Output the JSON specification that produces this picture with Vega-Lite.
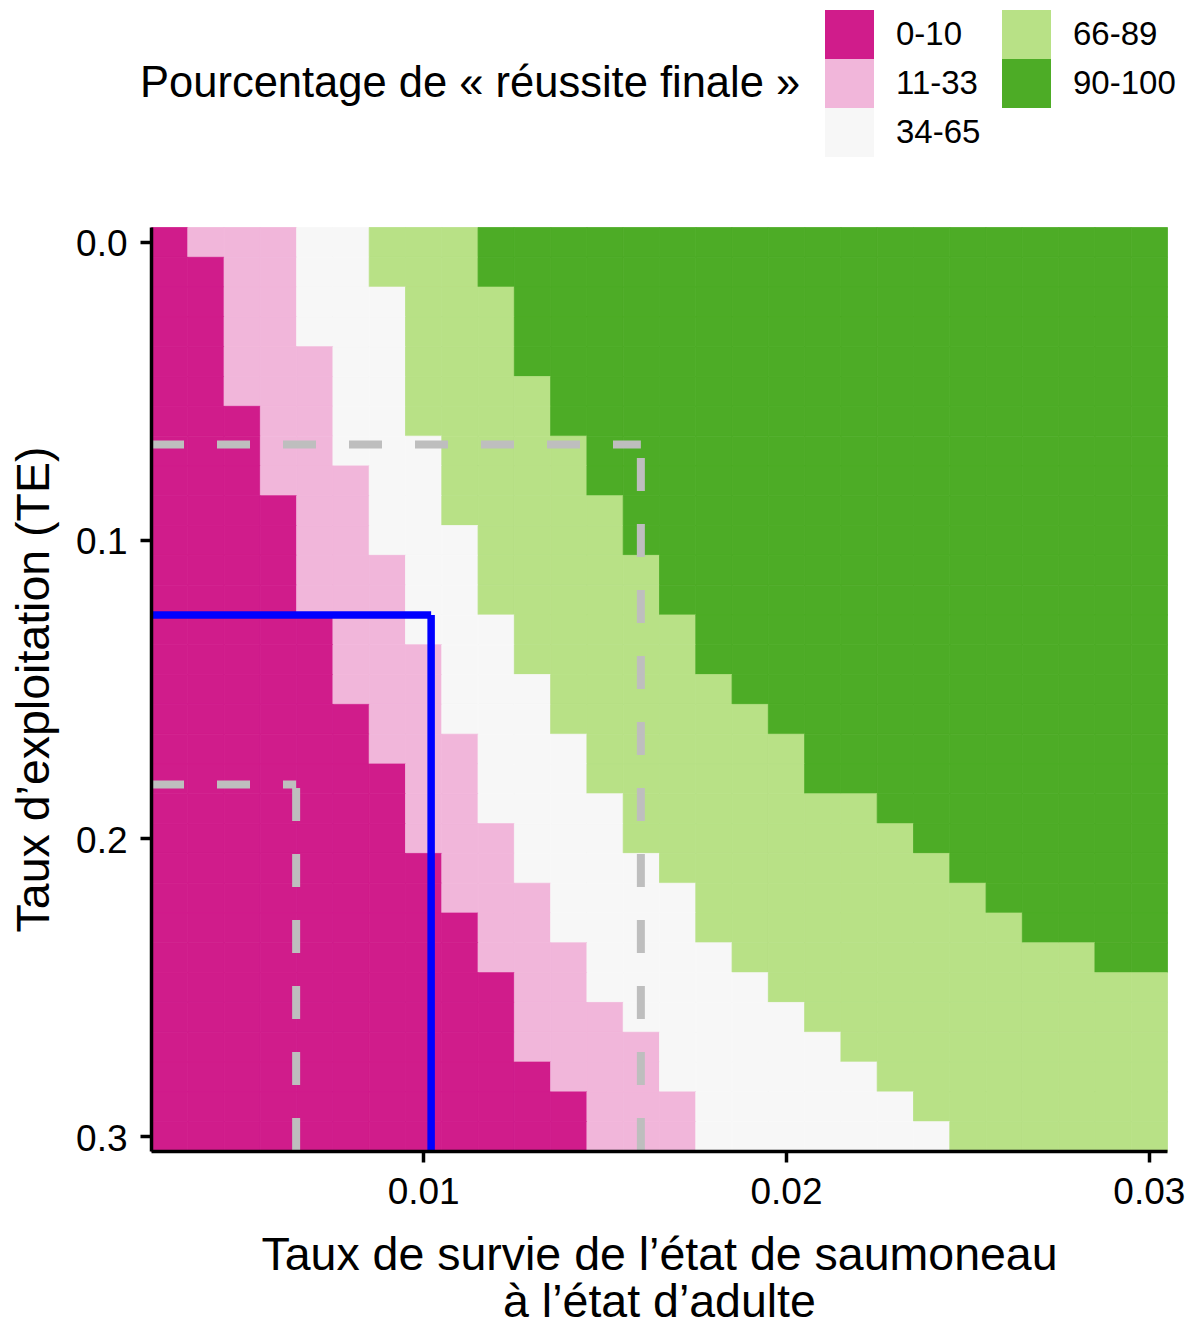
{
"$schema": "https://vega.github.io/schema/vega-lite/v6.json",
"width": 1016,
"height": 924,
"autosize": {"type": "none"},
"padding": {"left": 151, "top": 227, "right": 29, "bottom": 176},
"background": "white",
"config": {
  "view": {"stroke": null},
  "font": "Liberation Sans",
  "axis": {"grid": false, "labelColor": "black", "titleColor": "black", "domainColor": "black", "tickColor": "black", "domainWidth": 3.5, "tickWidth": 3.5, "tickSize": 11, "labelFontSize": 37, "titleFontSize": 46.5, "titleFontWeight": "normal"}
},
"datasets": {
"cellules": [
{"surv":0.003,"te":0,"pct":"0-10"},{"surv":0.004,"te":0,"pct":"11-33"},{"surv":0.005,"te":0,"pct":"11-33"},{"surv":0.006,"te":0,"pct":"11-33"},{"surv":0.007,"te":0,"pct":"34-65"},{"surv":0.008,"te":0,"pct":"34-65"},{"surv":0.009,"te":0,"pct":"66-89"},{"surv":0.01,"te":0,"pct":"66-89"},{"surv":0.011,"te":0,"pct":"66-89"},{"surv":0.012,"te":0,"pct":"90-100"},{"surv":0.013,"te":0,"pct":"90-100"},{"surv":0.014,"te":0,"pct":"90-100"},{"surv":0.015,"te":0,"pct":"90-100"},{"surv":0.016,"te":0,"pct":"90-100"},{"surv":0.017,"te":0,"pct":"90-100"},{"surv":0.018,"te":0,"pct":"90-100"},{"surv":0.019,"te":0,"pct":"90-100"},{"surv":0.02,"te":0,"pct":"90-100"},{"surv":0.021,"te":0,"pct":"90-100"},{"surv":0.022,"te":0,"pct":"90-100"},{"surv":0.023,"te":0,"pct":"90-100"},{"surv":0.024,"te":0,"pct":"90-100"},{"surv":0.025,"te":0,"pct":"90-100"},{"surv":0.026,"te":0,"pct":"90-100"},{"surv":0.027,"te":0,"pct":"90-100"},{"surv":0.028,"te":0,"pct":"90-100"},{"surv":0.029,"te":0,"pct":"90-100"},{"surv":0.03,"te":0,"pct":"90-100"},
{"surv":0.003,"te":0.01,"pct":"0-10"},{"surv":0.004,"te":0.01,"pct":"0-10"},{"surv":0.005,"te":0.01,"pct":"11-33"},{"surv":0.006,"te":0.01,"pct":"11-33"},{"surv":0.007,"te":0.01,"pct":"34-65"},{"surv":0.008,"te":0.01,"pct":"34-65"},{"surv":0.009,"te":0.01,"pct":"66-89"},{"surv":0.01,"te":0.01,"pct":"66-89"},{"surv":0.011,"te":0.01,"pct":"66-89"},{"surv":0.012,"te":0.01,"pct":"90-100"},{"surv":0.013,"te":0.01,"pct":"90-100"},{"surv":0.014,"te":0.01,"pct":"90-100"},{"surv":0.015,"te":0.01,"pct":"90-100"},{"surv":0.016,"te":0.01,"pct":"90-100"},{"surv":0.017,"te":0.01,"pct":"90-100"},{"surv":0.018,"te":0.01,"pct":"90-100"},{"surv":0.019,"te":0.01,"pct":"90-100"},{"surv":0.02,"te":0.01,"pct":"90-100"},{"surv":0.021,"te":0.01,"pct":"90-100"},{"surv":0.022,"te":0.01,"pct":"90-100"},{"surv":0.023,"te":0.01,"pct":"90-100"},{"surv":0.024,"te":0.01,"pct":"90-100"},{"surv":0.025,"te":0.01,"pct":"90-100"},{"surv":0.026,"te":0.01,"pct":"90-100"},{"surv":0.027,"te":0.01,"pct":"90-100"},{"surv":0.028,"te":0.01,"pct":"90-100"},{"surv":0.029,"te":0.01,"pct":"90-100"},{"surv":0.03,"te":0.01,"pct":"90-100"},
{"surv":0.003,"te":0.02,"pct":"0-10"},{"surv":0.004,"te":0.02,"pct":"0-10"},{"surv":0.005,"te":0.02,"pct":"11-33"},{"surv":0.006,"te":0.02,"pct":"11-33"},{"surv":0.007,"te":0.02,"pct":"34-65"},{"surv":0.008,"te":0.02,"pct":"34-65"},{"surv":0.009,"te":0.02,"pct":"34-65"},{"surv":0.01,"te":0.02,"pct":"66-89"},{"surv":0.011,"te":0.02,"pct":"66-89"},{"surv":0.012,"te":0.02,"pct":"66-89"},{"surv":0.013,"te":0.02,"pct":"90-100"},{"surv":0.014,"te":0.02,"pct":"90-100"},{"surv":0.015,"te":0.02,"pct":"90-100"},{"surv":0.016,"te":0.02,"pct":"90-100"},{"surv":0.017,"te":0.02,"pct":"90-100"},{"surv":0.018,"te":0.02,"pct":"90-100"},{"surv":0.019,"te":0.02,"pct":"90-100"},{"surv":0.02,"te":0.02,"pct":"90-100"},{"surv":0.021,"te":0.02,"pct":"90-100"},{"surv":0.022,"te":0.02,"pct":"90-100"},{"surv":0.023,"te":0.02,"pct":"90-100"},{"surv":0.024,"te":0.02,"pct":"90-100"},{"surv":0.025,"te":0.02,"pct":"90-100"},{"surv":0.026,"te":0.02,"pct":"90-100"},{"surv":0.027,"te":0.02,"pct":"90-100"},{"surv":0.028,"te":0.02,"pct":"90-100"},{"surv":0.029,"te":0.02,"pct":"90-100"},{"surv":0.03,"te":0.02,"pct":"90-100"},
{"surv":0.003,"te":0.03,"pct":"0-10"},{"surv":0.004,"te":0.03,"pct":"0-10"},{"surv":0.005,"te":0.03,"pct":"11-33"},{"surv":0.006,"te":0.03,"pct":"11-33"},{"surv":0.007,"te":0.03,"pct":"34-65"},{"surv":0.008,"te":0.03,"pct":"34-65"},{"surv":0.009,"te":0.03,"pct":"34-65"},{"surv":0.01,"te":0.03,"pct":"66-89"},{"surv":0.011,"te":0.03,"pct":"66-89"},{"surv":0.012,"te":0.03,"pct":"66-89"},{"surv":0.013,"te":0.03,"pct":"90-100"},{"surv":0.014,"te":0.03,"pct":"90-100"},{"surv":0.015,"te":0.03,"pct":"90-100"},{"surv":0.016,"te":0.03,"pct":"90-100"},{"surv":0.017,"te":0.03,"pct":"90-100"},{"surv":0.018,"te":0.03,"pct":"90-100"},{"surv":0.019,"te":0.03,"pct":"90-100"},{"surv":0.02,"te":0.03,"pct":"90-100"},{"surv":0.021,"te":0.03,"pct":"90-100"},{"surv":0.022,"te":0.03,"pct":"90-100"},{"surv":0.023,"te":0.03,"pct":"90-100"},{"surv":0.024,"te":0.03,"pct":"90-100"},{"surv":0.025,"te":0.03,"pct":"90-100"},{"surv":0.026,"te":0.03,"pct":"90-100"},{"surv":0.027,"te":0.03,"pct":"90-100"},{"surv":0.028,"te":0.03,"pct":"90-100"},{"surv":0.029,"te":0.03,"pct":"90-100"},{"surv":0.03,"te":0.03,"pct":"90-100"},
{"surv":0.003,"te":0.04,"pct":"0-10"},{"surv":0.004,"te":0.04,"pct":"0-10"},{"surv":0.005,"te":0.04,"pct":"11-33"},{"surv":0.006,"te":0.04,"pct":"11-33"},{"surv":0.007,"te":0.04,"pct":"11-33"},{"surv":0.008,"te":0.04,"pct":"34-65"},{"surv":0.009,"te":0.04,"pct":"34-65"},{"surv":0.01,"te":0.04,"pct":"66-89"},{"surv":0.011,"te":0.04,"pct":"66-89"},{"surv":0.012,"te":0.04,"pct":"66-89"},{"surv":0.013,"te":0.04,"pct":"90-100"},{"surv":0.014,"te":0.04,"pct":"90-100"},{"surv":0.015,"te":0.04,"pct":"90-100"},{"surv":0.016,"te":0.04,"pct":"90-100"},{"surv":0.017,"te":0.04,"pct":"90-100"},{"surv":0.018,"te":0.04,"pct":"90-100"},{"surv":0.019,"te":0.04,"pct":"90-100"},{"surv":0.02,"te":0.04,"pct":"90-100"},{"surv":0.021,"te":0.04,"pct":"90-100"},{"surv":0.022,"te":0.04,"pct":"90-100"},{"surv":0.023,"te":0.04,"pct":"90-100"},{"surv":0.024,"te":0.04,"pct":"90-100"},{"surv":0.025,"te":0.04,"pct":"90-100"},{"surv":0.026,"te":0.04,"pct":"90-100"},{"surv":0.027,"te":0.04,"pct":"90-100"},{"surv":0.028,"te":0.04,"pct":"90-100"},{"surv":0.029,"te":0.04,"pct":"90-100"},{"surv":0.03,"te":0.04,"pct":"90-100"},
{"surv":0.003,"te":0.05,"pct":"0-10"},{"surv":0.004,"te":0.05,"pct":"0-10"},{"surv":0.005,"te":0.05,"pct":"11-33"},{"surv":0.006,"te":0.05,"pct":"11-33"},{"surv":0.007,"te":0.05,"pct":"11-33"},{"surv":0.008,"te":0.05,"pct":"34-65"},{"surv":0.009,"te":0.05,"pct":"34-65"},{"surv":0.01,"te":0.05,"pct":"66-89"},{"surv":0.011,"te":0.05,"pct":"66-89"},{"surv":0.012,"te":0.05,"pct":"66-89"},{"surv":0.013,"te":0.05,"pct":"66-89"},{"surv":0.014,"te":0.05,"pct":"90-100"},{"surv":0.015,"te":0.05,"pct":"90-100"},{"surv":0.016,"te":0.05,"pct":"90-100"},{"surv":0.017,"te":0.05,"pct":"90-100"},{"surv":0.018,"te":0.05,"pct":"90-100"},{"surv":0.019,"te":0.05,"pct":"90-100"},{"surv":0.02,"te":0.05,"pct":"90-100"},{"surv":0.021,"te":0.05,"pct":"90-100"},{"surv":0.022,"te":0.05,"pct":"90-100"},{"surv":0.023,"te":0.05,"pct":"90-100"},{"surv":0.024,"te":0.05,"pct":"90-100"},{"surv":0.025,"te":0.05,"pct":"90-100"},{"surv":0.026,"te":0.05,"pct":"90-100"},{"surv":0.027,"te":0.05,"pct":"90-100"},{"surv":0.028,"te":0.05,"pct":"90-100"},{"surv":0.029,"te":0.05,"pct":"90-100"},{"surv":0.03,"te":0.05,"pct":"90-100"},
{"surv":0.003,"te":0.06,"pct":"0-10"},{"surv":0.004,"te":0.06,"pct":"0-10"},{"surv":0.005,"te":0.06,"pct":"0-10"},{"surv":0.006,"te":0.06,"pct":"11-33"},{"surv":0.007,"te":0.06,"pct":"11-33"},{"surv":0.008,"te":0.06,"pct":"34-65"},{"surv":0.009,"te":0.06,"pct":"34-65"},{"surv":0.01,"te":0.06,"pct":"66-89"},{"surv":0.011,"te":0.06,"pct":"66-89"},{"surv":0.012,"te":0.06,"pct":"66-89"},{"surv":0.013,"te":0.06,"pct":"66-89"},{"surv":0.014,"te":0.06,"pct":"90-100"},{"surv":0.015,"te":0.06,"pct":"90-100"},{"surv":0.016,"te":0.06,"pct":"90-100"},{"surv":0.017,"te":0.06,"pct":"90-100"},{"surv":0.018,"te":0.06,"pct":"90-100"},{"surv":0.019,"te":0.06,"pct":"90-100"},{"surv":0.02,"te":0.06,"pct":"90-100"},{"surv":0.021,"te":0.06,"pct":"90-100"},{"surv":0.022,"te":0.06,"pct":"90-100"},{"surv":0.023,"te":0.06,"pct":"90-100"},{"surv":0.024,"te":0.06,"pct":"90-100"},{"surv":0.025,"te":0.06,"pct":"90-100"},{"surv":0.026,"te":0.06,"pct":"90-100"},{"surv":0.027,"te":0.06,"pct":"90-100"},{"surv":0.028,"te":0.06,"pct":"90-100"},{"surv":0.029,"te":0.06,"pct":"90-100"},{"surv":0.03,"te":0.06,"pct":"90-100"},
{"surv":0.003,"te":0.07,"pct":"0-10"},{"surv":0.004,"te":0.07,"pct":"0-10"},{"surv":0.005,"te":0.07,"pct":"0-10"},{"surv":0.006,"te":0.07,"pct":"11-33"},{"surv":0.007,"te":0.07,"pct":"11-33"},{"surv":0.008,"te":0.07,"pct":"34-65"},{"surv":0.009,"te":0.07,"pct":"34-65"},{"surv":0.01,"te":0.07,"pct":"34-65"},{"surv":0.011,"te":0.07,"pct":"66-89"},{"surv":0.012,"te":0.07,"pct":"66-89"},{"surv":0.013,"te":0.07,"pct":"66-89"},{"surv":0.014,"te":0.07,"pct":"66-89"},{"surv":0.015,"te":0.07,"pct":"90-100"},{"surv":0.016,"te":0.07,"pct":"90-100"},{"surv":0.017,"te":0.07,"pct":"90-100"},{"surv":0.018,"te":0.07,"pct":"90-100"},{"surv":0.019,"te":0.07,"pct":"90-100"},{"surv":0.02,"te":0.07,"pct":"90-100"},{"surv":0.021,"te":0.07,"pct":"90-100"},{"surv":0.022,"te":0.07,"pct":"90-100"},{"surv":0.023,"te":0.07,"pct":"90-100"},{"surv":0.024,"te":0.07,"pct":"90-100"},{"surv":0.025,"te":0.07,"pct":"90-100"},{"surv":0.026,"te":0.07,"pct":"90-100"},{"surv":0.027,"te":0.07,"pct":"90-100"},{"surv":0.028,"te":0.07,"pct":"90-100"},{"surv":0.029,"te":0.07,"pct":"90-100"},{"surv":0.03,"te":0.07,"pct":"90-100"},
{"surv":0.003,"te":0.08,"pct":"0-10"},{"surv":0.004,"te":0.08,"pct":"0-10"},{"surv":0.005,"te":0.08,"pct":"0-10"},{"surv":0.006,"te":0.08,"pct":"11-33"},{"surv":0.007,"te":0.08,"pct":"11-33"},{"surv":0.008,"te":0.08,"pct":"11-33"},{"surv":0.009,"te":0.08,"pct":"34-65"},{"surv":0.01,"te":0.08,"pct":"34-65"},{"surv":0.011,"te":0.08,"pct":"66-89"},{"surv":0.012,"te":0.08,"pct":"66-89"},{"surv":0.013,"te":0.08,"pct":"66-89"},{"surv":0.014,"te":0.08,"pct":"66-89"},{"surv":0.015,"te":0.08,"pct":"90-100"},{"surv":0.016,"te":0.08,"pct":"90-100"},{"surv":0.017,"te":0.08,"pct":"90-100"},{"surv":0.018,"te":0.08,"pct":"90-100"},{"surv":0.019,"te":0.08,"pct":"90-100"},{"surv":0.02,"te":0.08,"pct":"90-100"},{"surv":0.021,"te":0.08,"pct":"90-100"},{"surv":0.022,"te":0.08,"pct":"90-100"},{"surv":0.023,"te":0.08,"pct":"90-100"},{"surv":0.024,"te":0.08,"pct":"90-100"},{"surv":0.025,"te":0.08,"pct":"90-100"},{"surv":0.026,"te":0.08,"pct":"90-100"},{"surv":0.027,"te":0.08,"pct":"90-100"},{"surv":0.028,"te":0.08,"pct":"90-100"},{"surv":0.029,"te":0.08,"pct":"90-100"},{"surv":0.03,"te":0.08,"pct":"90-100"},
{"surv":0.003,"te":0.09,"pct":"0-10"},{"surv":0.004,"te":0.09,"pct":"0-10"},{"surv":0.005,"te":0.09,"pct":"0-10"},{"surv":0.006,"te":0.09,"pct":"0-10"},{"surv":0.007,"te":0.09,"pct":"11-33"},{"surv":0.008,"te":0.09,"pct":"11-33"},{"surv":0.009,"te":0.09,"pct":"34-65"},{"surv":0.01,"te":0.09,"pct":"34-65"},{"surv":0.011,"te":0.09,"pct":"66-89"},{"surv":0.012,"te":0.09,"pct":"66-89"},{"surv":0.013,"te":0.09,"pct":"66-89"},{"surv":0.014,"te":0.09,"pct":"66-89"},{"surv":0.015,"te":0.09,"pct":"66-89"},{"surv":0.016,"te":0.09,"pct":"90-100"},{"surv":0.017,"te":0.09,"pct":"90-100"},{"surv":0.018,"te":0.09,"pct":"90-100"},{"surv":0.019,"te":0.09,"pct":"90-100"},{"surv":0.02,"te":0.09,"pct":"90-100"},{"surv":0.021,"te":0.09,"pct":"90-100"},{"surv":0.022,"te":0.09,"pct":"90-100"},{"surv":0.023,"te":0.09,"pct":"90-100"},{"surv":0.024,"te":0.09,"pct":"90-100"},{"surv":0.025,"te":0.09,"pct":"90-100"},{"surv":0.026,"te":0.09,"pct":"90-100"},{"surv":0.027,"te":0.09,"pct":"90-100"},{"surv":0.028,"te":0.09,"pct":"90-100"},{"surv":0.029,"te":0.09,"pct":"90-100"},{"surv":0.03,"te":0.09,"pct":"90-100"},
{"surv":0.003,"te":0.1,"pct":"0-10"},{"surv":0.004,"te":0.1,"pct":"0-10"},{"surv":0.005,"te":0.1,"pct":"0-10"},{"surv":0.006,"te":0.1,"pct":"0-10"},{"surv":0.007,"te":0.1,"pct":"11-33"},{"surv":0.008,"te":0.1,"pct":"11-33"},{"surv":0.009,"te":0.1,"pct":"34-65"},{"surv":0.01,"te":0.1,"pct":"34-65"},{"surv":0.011,"te":0.1,"pct":"34-65"},{"surv":0.012,"te":0.1,"pct":"66-89"},{"surv":0.013,"te":0.1,"pct":"66-89"},{"surv":0.014,"te":0.1,"pct":"66-89"},{"surv":0.015,"te":0.1,"pct":"66-89"},{"surv":0.016,"te":0.1,"pct":"90-100"},{"surv":0.017,"te":0.1,"pct":"90-100"},{"surv":0.018,"te":0.1,"pct":"90-100"},{"surv":0.019,"te":0.1,"pct":"90-100"},{"surv":0.02,"te":0.1,"pct":"90-100"},{"surv":0.021,"te":0.1,"pct":"90-100"},{"surv":0.022,"te":0.1,"pct":"90-100"},{"surv":0.023,"te":0.1,"pct":"90-100"},{"surv":0.024,"te":0.1,"pct":"90-100"},{"surv":0.025,"te":0.1,"pct":"90-100"},{"surv":0.026,"te":0.1,"pct":"90-100"},{"surv":0.027,"te":0.1,"pct":"90-100"},{"surv":0.028,"te":0.1,"pct":"90-100"},{"surv":0.029,"te":0.1,"pct":"90-100"},{"surv":0.03,"te":0.1,"pct":"90-100"},
{"surv":0.003,"te":0.11,"pct":"0-10"},{"surv":0.004,"te":0.11,"pct":"0-10"},{"surv":0.005,"te":0.11,"pct":"0-10"},{"surv":0.006,"te":0.11,"pct":"0-10"},{"surv":0.007,"te":0.11,"pct":"11-33"},{"surv":0.008,"te":0.11,"pct":"11-33"},{"surv":0.009,"te":0.11,"pct":"11-33"},{"surv":0.01,"te":0.11,"pct":"34-65"},{"surv":0.011,"te":0.11,"pct":"34-65"},{"surv":0.012,"te":0.11,"pct":"66-89"},{"surv":0.013,"te":0.11,"pct":"66-89"},{"surv":0.014,"te":0.11,"pct":"66-89"},{"surv":0.015,"te":0.11,"pct":"66-89"},{"surv":0.016,"te":0.11,"pct":"66-89"},{"surv":0.017,"te":0.11,"pct":"90-100"},{"surv":0.018,"te":0.11,"pct":"90-100"},{"surv":0.019,"te":0.11,"pct":"90-100"},{"surv":0.02,"te":0.11,"pct":"90-100"},{"surv":0.021,"te":0.11,"pct":"90-100"},{"surv":0.022,"te":0.11,"pct":"90-100"},{"surv":0.023,"te":0.11,"pct":"90-100"},{"surv":0.024,"te":0.11,"pct":"90-100"},{"surv":0.025,"te":0.11,"pct":"90-100"},{"surv":0.026,"te":0.11,"pct":"90-100"},{"surv":0.027,"te":0.11,"pct":"90-100"},{"surv":0.028,"te":0.11,"pct":"90-100"},{"surv":0.029,"te":0.11,"pct":"90-100"},{"surv":0.03,"te":0.11,"pct":"90-100"},
{"surv":0.003,"te":0.12,"pct":"0-10"},{"surv":0.004,"te":0.12,"pct":"0-10"},{"surv":0.005,"te":0.12,"pct":"0-10"},{"surv":0.006,"te":0.12,"pct":"0-10"},{"surv":0.007,"te":0.12,"pct":"11-33"},{"surv":0.008,"te":0.12,"pct":"11-33"},{"surv":0.009,"te":0.12,"pct":"11-33"},{"surv":0.01,"te":0.12,"pct":"34-65"},{"surv":0.011,"te":0.12,"pct":"34-65"},{"surv":0.012,"te":0.12,"pct":"66-89"},{"surv":0.013,"te":0.12,"pct":"66-89"},{"surv":0.014,"te":0.12,"pct":"66-89"},{"surv":0.015,"te":0.12,"pct":"66-89"},{"surv":0.016,"te":0.12,"pct":"66-89"},{"surv":0.017,"te":0.12,"pct":"90-100"},{"surv":0.018,"te":0.12,"pct":"90-100"},{"surv":0.019,"te":0.12,"pct":"90-100"},{"surv":0.02,"te":0.12,"pct":"90-100"},{"surv":0.021,"te":0.12,"pct":"90-100"},{"surv":0.022,"te":0.12,"pct":"90-100"},{"surv":0.023,"te":0.12,"pct":"90-100"},{"surv":0.024,"te":0.12,"pct":"90-100"},{"surv":0.025,"te":0.12,"pct":"90-100"},{"surv":0.026,"te":0.12,"pct":"90-100"},{"surv":0.027,"te":0.12,"pct":"90-100"},{"surv":0.028,"te":0.12,"pct":"90-100"},{"surv":0.029,"te":0.12,"pct":"90-100"},{"surv":0.03,"te":0.12,"pct":"90-100"},
{"surv":0.003,"te":0.13,"pct":"0-10"},{"surv":0.004,"te":0.13,"pct":"0-10"},{"surv":0.005,"te":0.13,"pct":"0-10"},{"surv":0.006,"te":0.13,"pct":"0-10"},{"surv":0.007,"te":0.13,"pct":"0-10"},{"surv":0.008,"te":0.13,"pct":"11-33"},{"surv":0.009,"te":0.13,"pct":"11-33"},{"surv":0.01,"te":0.13,"pct":"34-65"},{"surv":0.011,"te":0.13,"pct":"34-65"},{"surv":0.012,"te":0.13,"pct":"34-65"},{"surv":0.013,"te":0.13,"pct":"66-89"},{"surv":0.014,"te":0.13,"pct":"66-89"},{"surv":0.015,"te":0.13,"pct":"66-89"},{"surv":0.016,"te":0.13,"pct":"66-89"},{"surv":0.017,"te":0.13,"pct":"66-89"},{"surv":0.018,"te":0.13,"pct":"90-100"},{"surv":0.019,"te":0.13,"pct":"90-100"},{"surv":0.02,"te":0.13,"pct":"90-100"},{"surv":0.021,"te":0.13,"pct":"90-100"},{"surv":0.022,"te":0.13,"pct":"90-100"},{"surv":0.023,"te":0.13,"pct":"90-100"},{"surv":0.024,"te":0.13,"pct":"90-100"},{"surv":0.025,"te":0.13,"pct":"90-100"},{"surv":0.026,"te":0.13,"pct":"90-100"},{"surv":0.027,"te":0.13,"pct":"90-100"},{"surv":0.028,"te":0.13,"pct":"90-100"},{"surv":0.029,"te":0.13,"pct":"90-100"},{"surv":0.03,"te":0.13,"pct":"90-100"},
{"surv":0.003,"te":0.14,"pct":"0-10"},{"surv":0.004,"te":0.14,"pct":"0-10"},{"surv":0.005,"te":0.14,"pct":"0-10"},{"surv":0.006,"te":0.14,"pct":"0-10"},{"surv":0.007,"te":0.14,"pct":"0-10"},{"surv":0.008,"te":0.14,"pct":"11-33"},{"surv":0.009,"te":0.14,"pct":"11-33"},{"surv":0.01,"te":0.14,"pct":"11-33"},{"surv":0.011,"te":0.14,"pct":"34-65"},{"surv":0.012,"te":0.14,"pct":"34-65"},{"surv":0.013,"te":0.14,"pct":"66-89"},{"surv":0.014,"te":0.14,"pct":"66-89"},{"surv":0.015,"te":0.14,"pct":"66-89"},{"surv":0.016,"te":0.14,"pct":"66-89"},{"surv":0.017,"te":0.14,"pct":"66-89"},{"surv":0.018,"te":0.14,"pct":"90-100"},{"surv":0.019,"te":0.14,"pct":"90-100"},{"surv":0.02,"te":0.14,"pct":"90-100"},{"surv":0.021,"te":0.14,"pct":"90-100"},{"surv":0.022,"te":0.14,"pct":"90-100"},{"surv":0.023,"te":0.14,"pct":"90-100"},{"surv":0.024,"te":0.14,"pct":"90-100"},{"surv":0.025,"te":0.14,"pct":"90-100"},{"surv":0.026,"te":0.14,"pct":"90-100"},{"surv":0.027,"te":0.14,"pct":"90-100"},{"surv":0.028,"te":0.14,"pct":"90-100"},{"surv":0.029,"te":0.14,"pct":"90-100"},{"surv":0.03,"te":0.14,"pct":"90-100"},
{"surv":0.003,"te":0.15,"pct":"0-10"},{"surv":0.004,"te":0.15,"pct":"0-10"},{"surv":0.005,"te":0.15,"pct":"0-10"},{"surv":0.006,"te":0.15,"pct":"0-10"},{"surv":0.007,"te":0.15,"pct":"0-10"},{"surv":0.008,"te":0.15,"pct":"11-33"},{"surv":0.009,"te":0.15,"pct":"11-33"},{"surv":0.01,"te":0.15,"pct":"11-33"},{"surv":0.011,"te":0.15,"pct":"34-65"},{"surv":0.012,"te":0.15,"pct":"34-65"},{"surv":0.013,"te":0.15,"pct":"34-65"},{"surv":0.014,"te":0.15,"pct":"66-89"},{"surv":0.015,"te":0.15,"pct":"66-89"},{"surv":0.016,"te":0.15,"pct":"66-89"},{"surv":0.017,"te":0.15,"pct":"66-89"},{"surv":0.018,"te":0.15,"pct":"66-89"},{"surv":0.019,"te":0.15,"pct":"90-100"},{"surv":0.02,"te":0.15,"pct":"90-100"},{"surv":0.021,"te":0.15,"pct":"90-100"},{"surv":0.022,"te":0.15,"pct":"90-100"},{"surv":0.023,"te":0.15,"pct":"90-100"},{"surv":0.024,"te":0.15,"pct":"90-100"},{"surv":0.025,"te":0.15,"pct":"90-100"},{"surv":0.026,"te":0.15,"pct":"90-100"},{"surv":0.027,"te":0.15,"pct":"90-100"},{"surv":0.028,"te":0.15,"pct":"90-100"},{"surv":0.029,"te":0.15,"pct":"90-100"},{"surv":0.03,"te":0.15,"pct":"90-100"},
{"surv":0.003,"te":0.16,"pct":"0-10"},{"surv":0.004,"te":0.16,"pct":"0-10"},{"surv":0.005,"te":0.16,"pct":"0-10"},{"surv":0.006,"te":0.16,"pct":"0-10"},{"surv":0.007,"te":0.16,"pct":"0-10"},{"surv":0.008,"te":0.16,"pct":"0-10"},{"surv":0.009,"te":0.16,"pct":"11-33"},{"surv":0.01,"te":0.16,"pct":"11-33"},{"surv":0.011,"te":0.16,"pct":"34-65"},{"surv":0.012,"te":0.16,"pct":"34-65"},{"surv":0.013,"te":0.16,"pct":"34-65"},{"surv":0.014,"te":0.16,"pct":"66-89"},{"surv":0.015,"te":0.16,"pct":"66-89"},{"surv":0.016,"te":0.16,"pct":"66-89"},{"surv":0.017,"te":0.16,"pct":"66-89"},{"surv":0.018,"te":0.16,"pct":"66-89"},{"surv":0.019,"te":0.16,"pct":"66-89"},{"surv":0.02,"te":0.16,"pct":"90-100"},{"surv":0.021,"te":0.16,"pct":"90-100"},{"surv":0.022,"te":0.16,"pct":"90-100"},{"surv":0.023,"te":0.16,"pct":"90-100"},{"surv":0.024,"te":0.16,"pct":"90-100"},{"surv":0.025,"te":0.16,"pct":"90-100"},{"surv":0.026,"te":0.16,"pct":"90-100"},{"surv":0.027,"te":0.16,"pct":"90-100"},{"surv":0.028,"te":0.16,"pct":"90-100"},{"surv":0.029,"te":0.16,"pct":"90-100"},{"surv":0.03,"te":0.16,"pct":"90-100"},
{"surv":0.003,"te":0.17,"pct":"0-10"},{"surv":0.004,"te":0.17,"pct":"0-10"},{"surv":0.005,"te":0.17,"pct":"0-10"},{"surv":0.006,"te":0.17,"pct":"0-10"},{"surv":0.007,"te":0.17,"pct":"0-10"},{"surv":0.008,"te":0.17,"pct":"0-10"},{"surv":0.009,"te":0.17,"pct":"11-33"},{"surv":0.01,"te":0.17,"pct":"11-33"},{"surv":0.011,"te":0.17,"pct":"11-33"},{"surv":0.012,"te":0.17,"pct":"34-65"},{"surv":0.013,"te":0.17,"pct":"34-65"},{"surv":0.014,"te":0.17,"pct":"34-65"},{"surv":0.015,"te":0.17,"pct":"66-89"},{"surv":0.016,"te":0.17,"pct":"66-89"},{"surv":0.017,"te":0.17,"pct":"66-89"},{"surv":0.018,"te":0.17,"pct":"66-89"},{"surv":0.019,"te":0.17,"pct":"66-89"},{"surv":0.02,"te":0.17,"pct":"66-89"},{"surv":0.021,"te":0.17,"pct":"90-100"},{"surv":0.022,"te":0.17,"pct":"90-100"},{"surv":0.023,"te":0.17,"pct":"90-100"},{"surv":0.024,"te":0.17,"pct":"90-100"},{"surv":0.025,"te":0.17,"pct":"90-100"},{"surv":0.026,"te":0.17,"pct":"90-100"},{"surv":0.027,"te":0.17,"pct":"90-100"},{"surv":0.028,"te":0.17,"pct":"90-100"},{"surv":0.029,"te":0.17,"pct":"90-100"},{"surv":0.03,"te":0.17,"pct":"90-100"},
{"surv":0.003,"te":0.18,"pct":"0-10"},{"surv":0.004,"te":0.18,"pct":"0-10"},{"surv":0.005,"te":0.18,"pct":"0-10"},{"surv":0.006,"te":0.18,"pct":"0-10"},{"surv":0.007,"te":0.18,"pct":"0-10"},{"surv":0.008,"te":0.18,"pct":"0-10"},{"surv":0.009,"te":0.18,"pct":"0-10"},{"surv":0.01,"te":0.18,"pct":"11-33"},{"surv":0.011,"te":0.18,"pct":"11-33"},{"surv":0.012,"te":0.18,"pct":"34-65"},{"surv":0.013,"te":0.18,"pct":"34-65"},{"surv":0.014,"te":0.18,"pct":"34-65"},{"surv":0.015,"te":0.18,"pct":"66-89"},{"surv":0.016,"te":0.18,"pct":"66-89"},{"surv":0.017,"te":0.18,"pct":"66-89"},{"surv":0.018,"te":0.18,"pct":"66-89"},{"surv":0.019,"te":0.18,"pct":"66-89"},{"surv":0.02,"te":0.18,"pct":"66-89"},{"surv":0.021,"te":0.18,"pct":"90-100"},{"surv":0.022,"te":0.18,"pct":"90-100"},{"surv":0.023,"te":0.18,"pct":"90-100"},{"surv":0.024,"te":0.18,"pct":"90-100"},{"surv":0.025,"te":0.18,"pct":"90-100"},{"surv":0.026,"te":0.18,"pct":"90-100"},{"surv":0.027,"te":0.18,"pct":"90-100"},{"surv":0.028,"te":0.18,"pct":"90-100"},{"surv":0.029,"te":0.18,"pct":"90-100"},{"surv":0.03,"te":0.18,"pct":"90-100"},
{"surv":0.003,"te":0.19,"pct":"0-10"},{"surv":0.004,"te":0.19,"pct":"0-10"},{"surv":0.005,"te":0.19,"pct":"0-10"},{"surv":0.006,"te":0.19,"pct":"0-10"},{"surv":0.007,"te":0.19,"pct":"0-10"},{"surv":0.008,"te":0.19,"pct":"0-10"},{"surv":0.009,"te":0.19,"pct":"0-10"},{"surv":0.01,"te":0.19,"pct":"11-33"},{"surv":0.011,"te":0.19,"pct":"11-33"},{"surv":0.012,"te":0.19,"pct":"34-65"},{"surv":0.013,"te":0.19,"pct":"34-65"},{"surv":0.014,"te":0.19,"pct":"34-65"},{"surv":0.015,"te":0.19,"pct":"34-65"},{"surv":0.016,"te":0.19,"pct":"66-89"},{"surv":0.017,"te":0.19,"pct":"66-89"},{"surv":0.018,"te":0.19,"pct":"66-89"},{"surv":0.019,"te":0.19,"pct":"66-89"},{"surv":0.02,"te":0.19,"pct":"66-89"},{"surv":0.021,"te":0.19,"pct":"66-89"},{"surv":0.022,"te":0.19,"pct":"66-89"},{"surv":0.023,"te":0.19,"pct":"90-100"},{"surv":0.024,"te":0.19,"pct":"90-100"},{"surv":0.025,"te":0.19,"pct":"90-100"},{"surv":0.026,"te":0.19,"pct":"90-100"},{"surv":0.027,"te":0.19,"pct":"90-100"},{"surv":0.028,"te":0.19,"pct":"90-100"},{"surv":0.029,"te":0.19,"pct":"90-100"},{"surv":0.03,"te":0.19,"pct":"90-100"},
{"surv":0.003,"te":0.2,"pct":"0-10"},{"surv":0.004,"te":0.2,"pct":"0-10"},{"surv":0.005,"te":0.2,"pct":"0-10"},{"surv":0.006,"te":0.2,"pct":"0-10"},{"surv":0.007,"te":0.2,"pct":"0-10"},{"surv":0.008,"te":0.2,"pct":"0-10"},{"surv":0.009,"te":0.2,"pct":"0-10"},{"surv":0.01,"te":0.2,"pct":"11-33"},{"surv":0.011,"te":0.2,"pct":"11-33"},{"surv":0.012,"te":0.2,"pct":"11-33"},{"surv":0.013,"te":0.2,"pct":"34-65"},{"surv":0.014,"te":0.2,"pct":"34-65"},{"surv":0.015,"te":0.2,"pct":"34-65"},{"surv":0.016,"te":0.2,"pct":"66-89"},{"surv":0.017,"te":0.2,"pct":"66-89"},{"surv":0.018,"te":0.2,"pct":"66-89"},{"surv":0.019,"te":0.2,"pct":"66-89"},{"surv":0.02,"te":0.2,"pct":"66-89"},{"surv":0.021,"te":0.2,"pct":"66-89"},{"surv":0.022,"te":0.2,"pct":"66-89"},{"surv":0.023,"te":0.2,"pct":"66-89"},{"surv":0.024,"te":0.2,"pct":"90-100"},{"surv":0.025,"te":0.2,"pct":"90-100"},{"surv":0.026,"te":0.2,"pct":"90-100"},{"surv":0.027,"te":0.2,"pct":"90-100"},{"surv":0.028,"te":0.2,"pct":"90-100"},{"surv":0.029,"te":0.2,"pct":"90-100"},{"surv":0.03,"te":0.2,"pct":"90-100"},
{"surv":0.003,"te":0.21,"pct":"0-10"},{"surv":0.004,"te":0.21,"pct":"0-10"},{"surv":0.005,"te":0.21,"pct":"0-10"},{"surv":0.006,"te":0.21,"pct":"0-10"},{"surv":0.007,"te":0.21,"pct":"0-10"},{"surv":0.008,"te":0.21,"pct":"0-10"},{"surv":0.009,"te":0.21,"pct":"0-10"},{"surv":0.01,"te":0.21,"pct":"0-10"},{"surv":0.011,"te":0.21,"pct":"11-33"},{"surv":0.012,"te":0.21,"pct":"11-33"},{"surv":0.013,"te":0.21,"pct":"34-65"},{"surv":0.014,"te":0.21,"pct":"34-65"},{"surv":0.015,"te":0.21,"pct":"34-65"},{"surv":0.016,"te":0.21,"pct":"34-65"},{"surv":0.017,"te":0.21,"pct":"66-89"},{"surv":0.018,"te":0.21,"pct":"66-89"},{"surv":0.019,"te":0.21,"pct":"66-89"},{"surv":0.02,"te":0.21,"pct":"66-89"},{"surv":0.021,"te":0.21,"pct":"66-89"},{"surv":0.022,"te":0.21,"pct":"66-89"},{"surv":0.023,"te":0.21,"pct":"66-89"},{"surv":0.024,"te":0.21,"pct":"66-89"},{"surv":0.025,"te":0.21,"pct":"90-100"},{"surv":0.026,"te":0.21,"pct":"90-100"},{"surv":0.027,"te":0.21,"pct":"90-100"},{"surv":0.028,"te":0.21,"pct":"90-100"},{"surv":0.029,"te":0.21,"pct":"90-100"},{"surv":0.03,"te":0.21,"pct":"90-100"},
{"surv":0.003,"te":0.22,"pct":"0-10"},{"surv":0.004,"te":0.22,"pct":"0-10"},{"surv":0.005,"te":0.22,"pct":"0-10"},{"surv":0.006,"te":0.22,"pct":"0-10"},{"surv":0.007,"te":0.22,"pct":"0-10"},{"surv":0.008,"te":0.22,"pct":"0-10"},{"surv":0.009,"te":0.22,"pct":"0-10"},{"surv":0.01,"te":0.22,"pct":"0-10"},{"surv":0.011,"te":0.22,"pct":"11-33"},{"surv":0.012,"te":0.22,"pct":"11-33"},{"surv":0.013,"te":0.22,"pct":"11-33"},{"surv":0.014,"te":0.22,"pct":"34-65"},{"surv":0.015,"te":0.22,"pct":"34-65"},{"surv":0.016,"te":0.22,"pct":"34-65"},{"surv":0.017,"te":0.22,"pct":"34-65"},{"surv":0.018,"te":0.22,"pct":"66-89"},{"surv":0.019,"te":0.22,"pct":"66-89"},{"surv":0.02,"te":0.22,"pct":"66-89"},{"surv":0.021,"te":0.22,"pct":"66-89"},{"surv":0.022,"te":0.22,"pct":"66-89"},{"surv":0.023,"te":0.22,"pct":"66-89"},{"surv":0.024,"te":0.22,"pct":"66-89"},{"surv":0.025,"te":0.22,"pct":"66-89"},{"surv":0.026,"te":0.22,"pct":"90-100"},{"surv":0.027,"te":0.22,"pct":"90-100"},{"surv":0.028,"te":0.22,"pct":"90-100"},{"surv":0.029,"te":0.22,"pct":"90-100"},{"surv":0.03,"te":0.22,"pct":"90-100"},
{"surv":0.003,"te":0.23,"pct":"0-10"},{"surv":0.004,"te":0.23,"pct":"0-10"},{"surv":0.005,"te":0.23,"pct":"0-10"},{"surv":0.006,"te":0.23,"pct":"0-10"},{"surv":0.007,"te":0.23,"pct":"0-10"},{"surv":0.008,"te":0.23,"pct":"0-10"},{"surv":0.009,"te":0.23,"pct":"0-10"},{"surv":0.01,"te":0.23,"pct":"0-10"},{"surv":0.011,"te":0.23,"pct":"0-10"},{"surv":0.012,"te":0.23,"pct":"11-33"},{"surv":0.013,"te":0.23,"pct":"11-33"},{"surv":0.014,"te":0.23,"pct":"34-65"},{"surv":0.015,"te":0.23,"pct":"34-65"},{"surv":0.016,"te":0.23,"pct":"34-65"},{"surv":0.017,"te":0.23,"pct":"34-65"},{"surv":0.018,"te":0.23,"pct":"66-89"},{"surv":0.019,"te":0.23,"pct":"66-89"},{"surv":0.02,"te":0.23,"pct":"66-89"},{"surv":0.021,"te":0.23,"pct":"66-89"},{"surv":0.022,"te":0.23,"pct":"66-89"},{"surv":0.023,"te":0.23,"pct":"66-89"},{"surv":0.024,"te":0.23,"pct":"66-89"},{"surv":0.025,"te":0.23,"pct":"66-89"},{"surv":0.026,"te":0.23,"pct":"66-89"},{"surv":0.027,"te":0.23,"pct":"90-100"},{"surv":0.028,"te":0.23,"pct":"90-100"},{"surv":0.029,"te":0.23,"pct":"90-100"},{"surv":0.03,"te":0.23,"pct":"90-100"},
{"surv":0.003,"te":0.24,"pct":"0-10"},{"surv":0.004,"te":0.24,"pct":"0-10"},{"surv":0.005,"te":0.24,"pct":"0-10"},{"surv":0.006,"te":0.24,"pct":"0-10"},{"surv":0.007,"te":0.24,"pct":"0-10"},{"surv":0.008,"te":0.24,"pct":"0-10"},{"surv":0.009,"te":0.24,"pct":"0-10"},{"surv":0.01,"te":0.24,"pct":"0-10"},{"surv":0.011,"te":0.24,"pct":"0-10"},{"surv":0.012,"te":0.24,"pct":"11-33"},{"surv":0.013,"te":0.24,"pct":"11-33"},{"surv":0.014,"te":0.24,"pct":"11-33"},{"surv":0.015,"te":0.24,"pct":"34-65"},{"surv":0.016,"te":0.24,"pct":"34-65"},{"surv":0.017,"te":0.24,"pct":"34-65"},{"surv":0.018,"te":0.24,"pct":"34-65"},{"surv":0.019,"te":0.24,"pct":"66-89"},{"surv":0.02,"te":0.24,"pct":"66-89"},{"surv":0.021,"te":0.24,"pct":"66-89"},{"surv":0.022,"te":0.24,"pct":"66-89"},{"surv":0.023,"te":0.24,"pct":"66-89"},{"surv":0.024,"te":0.24,"pct":"66-89"},{"surv":0.025,"te":0.24,"pct":"66-89"},{"surv":0.026,"te":0.24,"pct":"66-89"},{"surv":0.027,"te":0.24,"pct":"66-89"},{"surv":0.028,"te":0.24,"pct":"66-89"},{"surv":0.029,"te":0.24,"pct":"90-100"},{"surv":0.03,"te":0.24,"pct":"90-100"},
{"surv":0.003,"te":0.25,"pct":"0-10"},{"surv":0.004,"te":0.25,"pct":"0-10"},{"surv":0.005,"te":0.25,"pct":"0-10"},{"surv":0.006,"te":0.25,"pct":"0-10"},{"surv":0.007,"te":0.25,"pct":"0-10"},{"surv":0.008,"te":0.25,"pct":"0-10"},{"surv":0.009,"te":0.25,"pct":"0-10"},{"surv":0.01,"te":0.25,"pct":"0-10"},{"surv":0.011,"te":0.25,"pct":"0-10"},{"surv":0.012,"te":0.25,"pct":"0-10"},{"surv":0.013,"te":0.25,"pct":"11-33"},{"surv":0.014,"te":0.25,"pct":"11-33"},{"surv":0.015,"te":0.25,"pct":"34-65"},{"surv":0.016,"te":0.25,"pct":"34-65"},{"surv":0.017,"te":0.25,"pct":"34-65"},{"surv":0.018,"te":0.25,"pct":"34-65"},{"surv":0.019,"te":0.25,"pct":"34-65"},{"surv":0.02,"te":0.25,"pct":"66-89"},{"surv":0.021,"te":0.25,"pct":"66-89"},{"surv":0.022,"te":0.25,"pct":"66-89"},{"surv":0.023,"te":0.25,"pct":"66-89"},{"surv":0.024,"te":0.25,"pct":"66-89"},{"surv":0.025,"te":0.25,"pct":"66-89"},{"surv":0.026,"te":0.25,"pct":"66-89"},{"surv":0.027,"te":0.25,"pct":"66-89"},{"surv":0.028,"te":0.25,"pct":"66-89"},{"surv":0.029,"te":0.25,"pct":"66-89"},{"surv":0.03,"te":0.25,"pct":"66-89"},
{"surv":0.003,"te":0.26,"pct":"0-10"},{"surv":0.004,"te":0.26,"pct":"0-10"},{"surv":0.005,"te":0.26,"pct":"0-10"},{"surv":0.006,"te":0.26,"pct":"0-10"},{"surv":0.007,"te":0.26,"pct":"0-10"},{"surv":0.008,"te":0.26,"pct":"0-10"},{"surv":0.009,"te":0.26,"pct":"0-10"},{"surv":0.01,"te":0.26,"pct":"0-10"},{"surv":0.011,"te":0.26,"pct":"0-10"},{"surv":0.012,"te":0.26,"pct":"0-10"},{"surv":0.013,"te":0.26,"pct":"11-33"},{"surv":0.014,"te":0.26,"pct":"11-33"},{"surv":0.015,"te":0.26,"pct":"11-33"},{"surv":0.016,"te":0.26,"pct":"34-65"},{"surv":0.017,"te":0.26,"pct":"34-65"},{"surv":0.018,"te":0.26,"pct":"34-65"},{"surv":0.019,"te":0.26,"pct":"34-65"},{"surv":0.02,"te":0.26,"pct":"34-65"},{"surv":0.021,"te":0.26,"pct":"66-89"},{"surv":0.022,"te":0.26,"pct":"66-89"},{"surv":0.023,"te":0.26,"pct":"66-89"},{"surv":0.024,"te":0.26,"pct":"66-89"},{"surv":0.025,"te":0.26,"pct":"66-89"},{"surv":0.026,"te":0.26,"pct":"66-89"},{"surv":0.027,"te":0.26,"pct":"66-89"},{"surv":0.028,"te":0.26,"pct":"66-89"},{"surv":0.029,"te":0.26,"pct":"66-89"},{"surv":0.03,"te":0.26,"pct":"66-89"},
{"surv":0.003,"te":0.27,"pct":"0-10"},{"surv":0.004,"te":0.27,"pct":"0-10"},{"surv":0.005,"te":0.27,"pct":"0-10"},{"surv":0.006,"te":0.27,"pct":"0-10"},{"surv":0.007,"te":0.27,"pct":"0-10"},{"surv":0.008,"te":0.27,"pct":"0-10"},{"surv":0.009,"te":0.27,"pct":"0-10"},{"surv":0.01,"te":0.27,"pct":"0-10"},{"surv":0.011,"te":0.27,"pct":"0-10"},{"surv":0.012,"te":0.27,"pct":"0-10"},{"surv":0.013,"te":0.27,"pct":"11-33"},{"surv":0.014,"te":0.27,"pct":"11-33"},{"surv":0.015,"te":0.27,"pct":"11-33"},{"surv":0.016,"te":0.27,"pct":"11-33"},{"surv":0.017,"te":0.27,"pct":"34-65"},{"surv":0.018,"te":0.27,"pct":"34-65"},{"surv":0.019,"te":0.27,"pct":"34-65"},{"surv":0.02,"te":0.27,"pct":"34-65"},{"surv":0.021,"te":0.27,"pct":"34-65"},{"surv":0.022,"te":0.27,"pct":"66-89"},{"surv":0.023,"te":0.27,"pct":"66-89"},{"surv":0.024,"te":0.27,"pct":"66-89"},{"surv":0.025,"te":0.27,"pct":"66-89"},{"surv":0.026,"te":0.27,"pct":"66-89"},{"surv":0.027,"te":0.27,"pct":"66-89"},{"surv":0.028,"te":0.27,"pct":"66-89"},{"surv":0.029,"te":0.27,"pct":"66-89"},{"surv":0.03,"te":0.27,"pct":"66-89"},
{"surv":0.003,"te":0.28,"pct":"0-10"},{"surv":0.004,"te":0.28,"pct":"0-10"},{"surv":0.005,"te":0.28,"pct":"0-10"},{"surv":0.006,"te":0.28,"pct":"0-10"},{"surv":0.007,"te":0.28,"pct":"0-10"},{"surv":0.008,"te":0.28,"pct":"0-10"},{"surv":0.009,"te":0.28,"pct":"0-10"},{"surv":0.01,"te":0.28,"pct":"0-10"},{"surv":0.011,"te":0.28,"pct":"0-10"},{"surv":0.012,"te":0.28,"pct":"0-10"},{"surv":0.013,"te":0.28,"pct":"0-10"},{"surv":0.014,"te":0.28,"pct":"11-33"},{"surv":0.015,"te":0.28,"pct":"11-33"},{"surv":0.016,"te":0.28,"pct":"11-33"},{"surv":0.017,"te":0.28,"pct":"34-65"},{"surv":0.018,"te":0.28,"pct":"34-65"},{"surv":0.019,"te":0.28,"pct":"34-65"},{"surv":0.02,"te":0.28,"pct":"34-65"},{"surv":0.021,"te":0.28,"pct":"34-65"},{"surv":0.022,"te":0.28,"pct":"34-65"},{"surv":0.023,"te":0.28,"pct":"66-89"},{"surv":0.024,"te":0.28,"pct":"66-89"},{"surv":0.025,"te":0.28,"pct":"66-89"},{"surv":0.026,"te":0.28,"pct":"66-89"},{"surv":0.027,"te":0.28,"pct":"66-89"},{"surv":0.028,"te":0.28,"pct":"66-89"},{"surv":0.029,"te":0.28,"pct":"66-89"},{"surv":0.03,"te":0.28,"pct":"66-89"},
{"surv":0.003,"te":0.29,"pct":"0-10"},{"surv":0.004,"te":0.29,"pct":"0-10"},{"surv":0.005,"te":0.29,"pct":"0-10"},{"surv":0.006,"te":0.29,"pct":"0-10"},{"surv":0.007,"te":0.29,"pct":"0-10"},{"surv":0.008,"te":0.29,"pct":"0-10"},{"surv":0.009,"te":0.29,"pct":"0-10"},{"surv":0.01,"te":0.29,"pct":"0-10"},{"surv":0.011,"te":0.29,"pct":"0-10"},{"surv":0.012,"te":0.29,"pct":"0-10"},{"surv":0.013,"te":0.29,"pct":"0-10"},{"surv":0.014,"te":0.29,"pct":"0-10"},{"surv":0.015,"te":0.29,"pct":"11-33"},{"surv":0.016,"te":0.29,"pct":"11-33"},{"surv":0.017,"te":0.29,"pct":"11-33"},{"surv":0.018,"te":0.29,"pct":"34-65"},{"surv":0.019,"te":0.29,"pct":"34-65"},{"surv":0.02,"te":0.29,"pct":"34-65"},{"surv":0.021,"te":0.29,"pct":"34-65"},{"surv":0.022,"te":0.29,"pct":"34-65"},{"surv":0.023,"te":0.29,"pct":"34-65"},{"surv":0.024,"te":0.29,"pct":"66-89"},{"surv":0.025,"te":0.29,"pct":"66-89"},{"surv":0.026,"te":0.29,"pct":"66-89"},{"surv":0.027,"te":0.29,"pct":"66-89"},{"surv":0.028,"te":0.29,"pct":"66-89"},{"surv":0.029,"te":0.29,"pct":"66-89"},{"surv":0.03,"te":0.29,"pct":"66-89"},
{"surv":0.003,"te":0.3,"pct":"0-10"},{"surv":0.004,"te":0.3,"pct":"0-10"},{"surv":0.005,"te":0.3,"pct":"0-10"},{"surv":0.006,"te":0.3,"pct":"0-10"},{"surv":0.007,"te":0.3,"pct":"0-10"},{"surv":0.008,"te":0.3,"pct":"0-10"},{"surv":0.009,"te":0.3,"pct":"0-10"},{"surv":0.01,"te":0.3,"pct":"0-10"},{"surv":0.011,"te":0.3,"pct":"0-10"},{"surv":0.012,"te":0.3,"pct":"0-10"},{"surv":0.013,"te":0.3,"pct":"0-10"},{"surv":0.014,"te":0.3,"pct":"0-10"},{"surv":0.015,"te":0.3,"pct":"11-33"},{"surv":0.016,"te":0.3,"pct":"11-33"},{"surv":0.017,"te":0.3,"pct":"11-33"},{"surv":0.018,"te":0.3,"pct":"34-65"},{"surv":0.019,"te":0.3,"pct":"34-65"},{"surv":0.02,"te":0.3,"pct":"34-65"},{"surv":0.021,"te":0.3,"pct":"34-65"},{"surv":0.022,"te":0.3,"pct":"34-65"},{"surv":0.023,"te":0.3,"pct":"34-65"},{"surv":0.024,"te":0.3,"pct":"34-65"},{"surv":0.025,"te":0.3,"pct":"66-89"},{"surv":0.026,"te":0.3,"pct":"66-89"},{"surv":0.027,"te":0.3,"pct":"66-89"},{"surv":0.028,"te":0.3,"pct":"66-89"},{"surv":0.029,"te":0.3,"pct":"66-89"},{"surv":0.03,"te":0.3,"pct":"66-89"}
],
"segments": [
{"kind":"gris","surv":0.0025,"surv_fin":0.016,"te":0.068,"te_fin":0.068},
{"kind":"gris","surv":0.016,"surv_fin":0.016,"te":0.305,"te_fin":0.068},
{"kind":"gris","surv":0.0025,"surv_fin":0.0065,"te":0.182,"te_fin":0.182},
{"kind":"gris","surv":0.0065,"surv_fin":0.0065,"te":0.305,"te_fin":0.182},
{"kind":"bleu","surv":0.0025,"surv_fin":0.01022,"te":0.1252,"te_fin":0.1252},
{"kind":"bleu","surv":0.01022,"surv_fin":0.01022,"te":0.305,"te_fin":0.1252}
]
},
"layer": [
{
  "data": {"name": "cellules"},
  "mark": {"type": "rect", "binSpacing": 0, "strokeWidth": 0.8},
  "encoding": {
    "x": {"field": "surv", "type": "quantitative",
      "bin": {"step": 0.001, "extent": [0.0025, 0.0305], "nice": false},
      "scale": {"domain": [0.0025, 0.0305], "nice": false, "zero": false},
      "axis": {"values": [0.01, 0.02, 0.03], "format": ".2f", "labelPadding": 12, "labelFlush": false,
        "title": ["Taux de survie de l’état de saumoneau", "à l’état d’adulte"],
        "titleLineHeight": 47, "titleBaseline": "alphabetic", "titleY": 118}},
    "y": {"field": "te", "type": "quantitative",
      "bin": {"step": 0.01, "extent": [-0.005, 0.305], "nice": false},
      "scale": {"domain": [-0.005, 0.305], "reverse": true, "nice": false, "zero": false},
      "axis": {"values": [0, 0.1, 0.2, 0.3], "format": ".1f", "labelPadding": 13, "labelOffset": 3, "labelFlush": false,
        "title": "Taux d’exploitation (TE)", "titleAngle": 270, "titleBaseline": "alphabetic", "titleAlign": "center", "titleX": -103, "titleY": 462}},
    "color": {"field": "pct", "type": "nominal",
      "scale": {"domain": ["0-10", "11-33", "34-65", "66-89", "90-100"], "range": ["#d01c8b", "#f1b6da", "#f7f7f7", "#b8e186", "#4dac26"]},
      "legend": {"orient": "none", "legendX": -11, "legendY": -217, "padding": 0,
        "title": "Pourcentage de « réussite finale »", "titleOrient": "left", "titleFontSize": 43.5, "titleFontWeight": "normal", "titleColor": "black", "titlePadding": 24, "titleLimit": 1000,
        "columns": 2,
        "symbolType": "square", "symbolSize": 2401, "symbolStrokeWidth": 0, "symbolOpacity": 1,
        "labelFontSize": 33, "labelColor": "black", "labelOffset": 22, "labelLimit": 400,
        "rowPadding": 0, "columnPadding": 21}},
    "stroke": {"field": "pct", "type": "nominal",
      "scale": {"domain": ["0-10", "11-33", "34-65", "66-89", "90-100"], "range": ["#d01c8b", "#f1b6da", "#f7f7f7", "#b8e186", "#4dac26"]},
      "legend": null}
  }
},
{
  "data": {"name": "segments"},
  "transform": [{"filter": {"field": "kind", "equal": "gris"}}],
  "mark": {"type": "rule", "color": "#BEBEBE", "strokeWidth": 8, "strokeDash": [33, 33], "strokeCap": "butt"},
  "encoding": {
    "x": {"field": "surv", "type": "quantitative"},
    "x2": {"field": "surv_fin"},
    "y": {"field": "te", "type": "quantitative"},
    "y2": {"field": "te_fin"}
  }
},
{
  "data": {"name": "segments"},
  "transform": [{"filter": {"field": "kind", "equal": "bleu"}}],
  "mark": {"type": "rule", "color": "#0000FF", "strokeWidth": 7.5, "strokeCap": "butt"},
  "encoding": {
    "x": {"field": "surv", "type": "quantitative"},
    "x2": {"field": "surv_fin"},
    "y": {"field": "te", "type": "quantitative"},
    "y2": {"field": "te_fin"}
  }
}
]
}
